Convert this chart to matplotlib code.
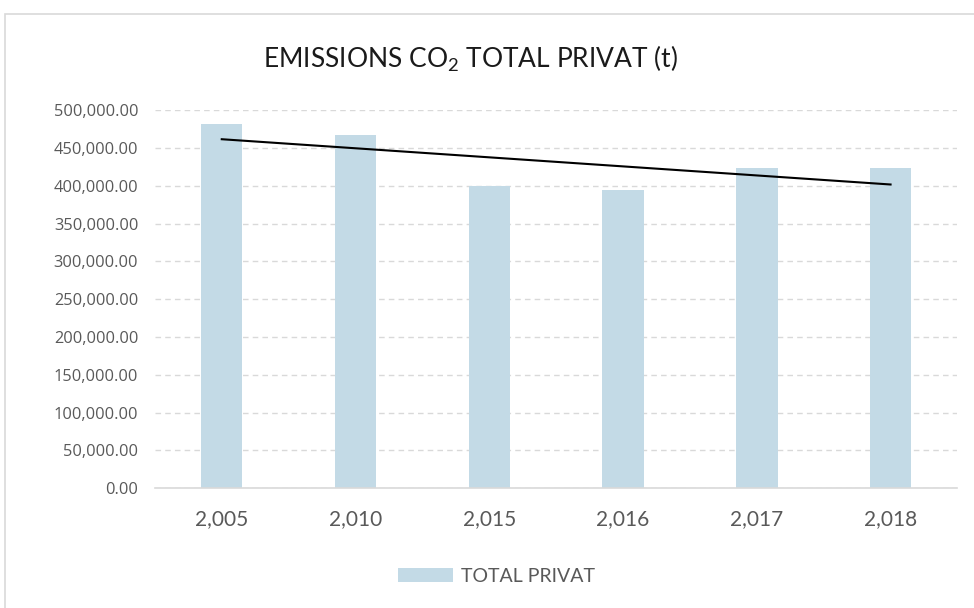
import numpy as np
import matplotlib
matplotlib.use("Agg")
import matplotlib.pyplot as plt
from matplotlib.patches import Rectangle
from matplotlib.ticker import FuncFormatter, MultipleLocator

# values (tonnes)
years = [2005, 2010, 2015, 2016, 2017, 2018]
total_privat = [481000, 467000, 399000, 394000, 424000, 424000]

bar_color = "#c3dae6"
grid_color = "#d9d9d9"
text_color = "#595959"

plt.rcParams["mathtext.fontset"] = "custom"
plt.rcParams["mathtext.rm"] = "Lato"

fig = plt.figure(figsize=(9.74, 6.08), dpi=100)
ax = fig.add_axes([0.159, 0.197, 0.824, 0.622])

x = np.arange(len(years))
ax.bar(x, total_privat, width=0.31, color=bar_color, label="TOTAL PRIVAT", zorder=2)

# linear trendline over the category index
coef = np.polyfit(x, total_privat, 1)
ax.plot(x, np.polyval(coef, x), color="black", linewidth=1.5, zorder=3)

ax.set_xlim(-0.5, len(years) - 0.5)
ax.set_ylim(0, 500000)
ax.yaxis.set_major_locator(MultipleLocator(50000))
ax.yaxis.set_major_formatter(FuncFormatter(lambda v, p: f"{v:,.2f}"))
ax.set_xticks(x)
ax.set_xticklabels([f"{y:,}" for y in years])

ax.grid(axis="y", color=grid_color, linestyle=(0, (4, 3)), linewidth=1.0, zorder=1)
for s in ["top", "right", "left"]:
    ax.spines[s].set_visible(False)
ax.spines["bottom"].set_color(grid_color)
ax.spines["bottom"].set_linewidth(1.2)
ax.tick_params(axis="both", length=0, colors=text_color)
ax.tick_params(axis="y", labelsize=11.8, pad=12)
ax.tick_params(axis="x", labelsize=15, pad=15)
for lbl in ax.get_yticklabels():
    lbl.set_family("Open Sans")
for lbl in ax.get_xticklabels():
    lbl.set_family("Lato")

fig.text(0.483, 0.903, "EMISSIONS CO$_2$ TOTAL PRIVAT (t)", ha="center", va="center",
         fontsize=19, color="#1a1a1a", family="Lato")

leg = fig.legend(loc="center", bbox_to_anchor=(0.51, 0.052), frameon=False,
                 handlelength=2.83, handleheight=0.72, handletextpad=0.4,
                 prop={"family": "Lato", "size": 14})
for t in leg.get_texts():
    t.set_color(text_color)

# light frame around the chart area
fig.patches.append(Rectangle((5 / 974, -0.01), 1.2, 1 - 14 / 608 + 0.01,
                             transform=fig.transFigure, fill=False,
                             edgecolor="#d9d9d9", linewidth=1.2))

fig.savefig("out.png", dpi=100, facecolor="white")
